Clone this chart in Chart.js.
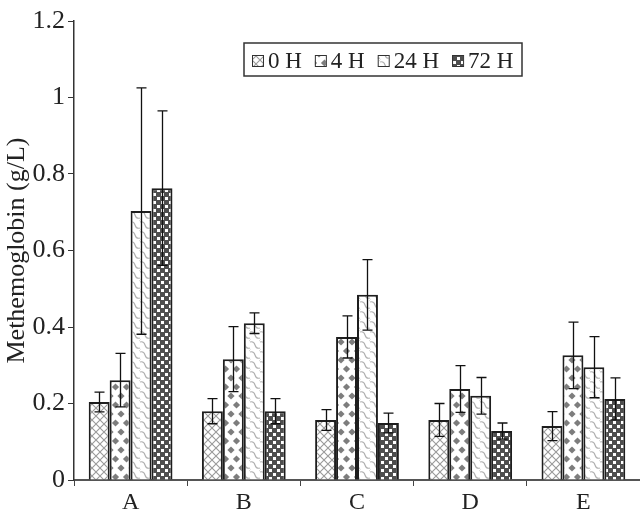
<!DOCTYPE html>
<html>
<head>
<meta charset="utf-8">
<title>Methemoglobin</title>
<script src="https://cdn.jsdelivr.net/npm/chart.js@4.4.1/dist/chart.umd.min.js"></script>
<style>
  html, body { margin: 0; padding: 0; background: #fff; }
  #wrap { width: 640px; height: 509px; }
</style>
</head>
<body>
<div id="wrap"><canvas id="c" width="640" height="509"></canvas></div>
<script>
// Groups and sampling times
const categories = ['A', 'B', 'C', 'D', 'E'];
const seriesNames = ['0 H', '4 H', '24 H', '72 H'];

// Mean methemoglobin (g/L) and standard deviation per group
const h0     = [0.204, 0.180, 0.157, 0.157, 0.141];
const h0Err  = [0.026, 0.033, 0.027, 0.043, 0.038];
const h4     = [0.261, 0.316, 0.374, 0.238, 0.326];
const h4Err  = [0.070, 0.085, 0.055, 0.061, 0.087];
const h24    = [0.703, 0.410, 0.484, 0.220, 0.295];
const h24Err = [0.322, 0.027, 0.092, 0.048, 0.080];
const h72    = [0.763, 0.180, 0.149, 0.128, 0.212];
const h72Err = [0.202, 0.033, 0.026, 0.021, 0.055];

const yTicks = [0, 0.2, 0.4, 0.6, 0.8, 1, 1.2];

const FONT = '"Liberation Serif", "Times New Roman", serif';
const INK = '#222';

// ---- fill patterns ----
function makePattern(w, h, draw) {
  const c = document.createElement('canvas');
  c.width = w; c.height = h;
  const g = c.getContext('2d');
  draw(g, w, h);
  return g.createPattern(c, 'repeat');
}

// diagonal lattice
const patCross = makePattern(8, 8, (g, w, h) => {
  g.fillStyle = '#fff'; g.fillRect(0, 0, w, h);
  g.strokeStyle = '#9a9a9a'; g.lineWidth = 1.1;
  g.beginPath();
  g.moveTo(-1, -1); g.lineTo(w + 1, h + 1);
  g.moveTo(w + 1, -1); g.lineTo(-1, h + 1);
  g.stroke();
});

// grey diamonds on white
const patDiamond = makePattern(11, 18, (g, w, h) => {
  g.fillStyle = '#fff'; g.fillRect(0, 0, w, h);
  g.fillStyle = '#7d7d7d';
  const r = 3.6;
  const pts = [[0, 0], [w, 0], [0, h], [w, h], [w / 2, h / 2]];
  pts.forEach(([x, y]) => {
    g.beginPath();
    g.moveTo(x, y - r); g.lineTo(x + r, y); g.lineTo(x, y + r); g.lineTo(x - r, y);
    g.closePath(); g.fill();
  });
});

// light wavy scales
const patWave = makePattern(10, 10, (g, w, h) => {
  g.fillStyle = '#fff'; g.fillRect(0, 0, w, h);
  g.strokeStyle = '#b0b0b0'; g.lineWidth = 1.1;
  g.beginPath();
  g.moveTo(0, 2); g.quadraticCurveTo(4, 1, 5, 5); g.quadraticCurveTo(6, 9, 10, 8);
  g.moveTo(-5, 7); g.quadraticCurveTo(-1, 6, 0, 10);
  g.moveTo(5, -3); g.quadraticCurveTo(9, -4, 10, 0); g.quadraticCurveTo(11, 4, 15, 3);
  g.stroke();
});

// dark grey with white squares
const patCheck = makePattern(8, 8, (g, w, h) => {
  g.fillStyle = '#4e4e4e'; g.fillRect(0, 0, w, h);
  g.fillStyle = '#fff';
  g.fillRect(1, 1, 3, 3);
  g.fillRect(5, 5, 3, 3);
});

const fills = [patCross, patDiamond, patWave, patCheck];
const values = [h0, h4, h24, h72];
const errors = [h0Err, h4Err, h24Err, h72Err];

const datasets = seriesNames.map((name, i) => ({
  label: name,
  data: values[i],
  errors: errors[i],
  backgroundColor: fills[i],
  borderColor: '#1e1e1e',
  borderWidth: 2,
  borderSkipped: 'start',
  barPercentage: 1.0,
  categoryPercentage: 0.74
}));

// whiskers drawn from each dataset's error values
const errorBars = {
  id: 'errorBars',
  afterDatasetsDraw(chart) {
    const ctx = chart.ctx;
    const y = chart.scales.y;
    ctx.save();
    ctx.strokeStyle = '#111';
    ctx.lineWidth = 1.3;
    chart.data.datasets.forEach((ds, di) => {
      const meta = chart.getDatasetMeta(di);
      meta.data.forEach((bar, i) => {
        const v = ds.data[i], e = ds.errors[i];
        const x = Math.round(bar.x) + 0.5;
        const top = y.getPixelForValue(v + e);
        const bot = y.getPixelForValue(v - e);
        const cap = 5;
        ctx.beginPath();
        ctx.moveTo(x, top); ctx.lineTo(x, bot);
        ctx.moveTo(x - cap, top); ctx.lineTo(x + cap, top);
        ctx.moveTo(x - cap, bot); ctx.lineTo(x + cap, bot);
        ctx.stroke();
      });
    });
    ctx.restore();
  }
};

// boxed legend inside the plot area
const boxedLegend = {
  id: 'boxedLegend',
  afterDraw(chart) {
    const ctx = chart.ctx;
    const box = { x: 244, y: 43, w: 278, h: 33 };
    ctx.save();
    ctx.fillStyle = '#fff';
    ctx.fillRect(box.x, box.y, box.w, box.h);
    ctx.strokeStyle = '#333';
    ctx.lineWidth = 1.5;
    ctx.strokeRect(box.x, box.y, box.w, box.h);
    ctx.font = '23px ' + FONT;
    ctx.textBaseline = 'alphabetic';
    let x = box.x + 8;
    const sw = 11;
    chart.data.datasets.forEach((ds) => {
      ctx.fillStyle = ds.backgroundColor;
      ctx.fillRect(x, box.y + 12, sw, sw);
      ctx.strokeStyle = '#333';
      ctx.lineWidth = 1;
      ctx.strokeRect(x + 0.5, box.y + 12.5, sw, sw);
      ctx.fillStyle = INK;
      ctx.fillText(ds.label, x + sw + 5, box.y + 25);
      x += sw + 5 + ctx.measureText(ds.label).width + 13;
    });
    ctx.restore();
  }
};

new Chart(document.getElementById('c'), {
  type: 'bar',
  data: { labels: categories, datasets },
  plugins: [errorBars, boxedLegend],
  options: {
    responsive: false,
    animation: false,
    layout: { padding: { top: 21, right: 0, left: 0, bottom: 0 } },
    plugins: { legend: { display: false }, tooltip: { enabled: false } },
    scales: {
      x: {
        grid: { display: true, drawOnChartArea: false, drawTicks: true, tickLength: 6, color: '#444', offset: true },
        border: { display: true, color: '#555', width: 2 },
        ticks: { color: INK, font: { family: FONT, size: 24 }, padding: 2 },
        afterFit(s) { s.height = 29; }
      },
      y: {
        min: 0, max: 1.2,
        afterBuildTicks(s) { s.ticks = yTicks.map(v => ({ value: v })); },
        grid: { display: true, drawOnChartArea: false, drawTicks: true, tickLength: 6, color: '#333' },
        border: { display: true, color: '#333', width: 1.5 },
        ticks: {
          color: INK, font: { family: FONT, size: 26 }, padding: 3,
          callback: v => String(Number(v.toFixed(1)))
        },
        title: { display: true, text: 'Methemoglobin (g/L)', color: INK, font: { family: FONT, size: 26 }, padding: { top: 2, bottom: 0 } },
        afterFit(s) { s.width = 74; }
      }
    }
  }
});
</script>
</body>
</html>
